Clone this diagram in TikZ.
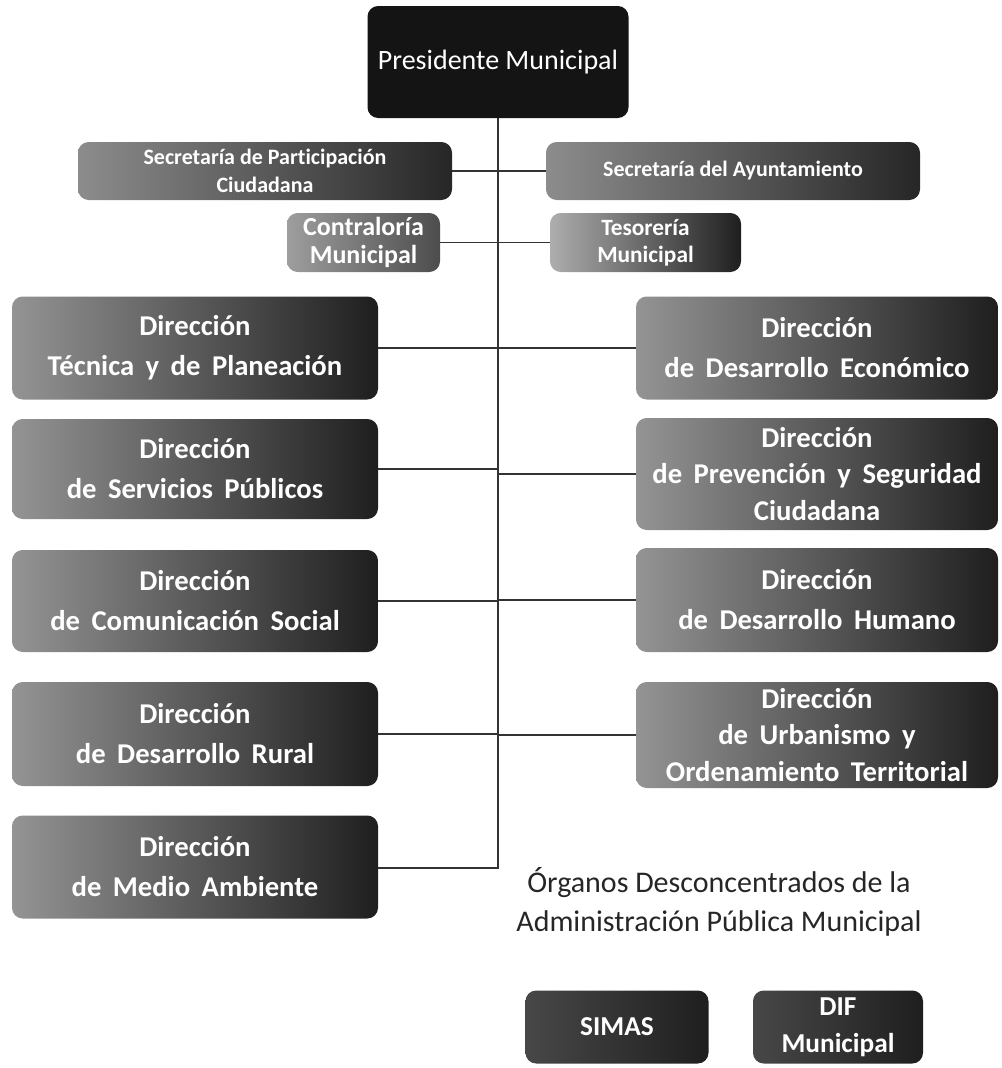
\documentclass[tikz,border=0pt]{standalone}
\usepackage{fontspec}
\setmainfont{Carlito}[Ligatures=NoCommon]
\usetikzlibrary{shadings}
\newcommand\mywidesp{\spaceskip 0.40em plus 0.1em\relax}
\begin{document}
\begin{tikzpicture}[x=0.75pt,y=-0.75pt,
  sz/.style 2 args={minimum width=#1*0.75pt, minimum height=#2*0.75pt},
  box/.style={rounded corners=8pt, inner sep=0pt, align=center, text=white},
  dirbox/.style={box, left color=black!42, right color=black!88,
    font=\fontsize{21.5}{30}\selectfont\bfseries\mywidesp},
  dirthree/.style={dirbox, font=\fontsize{21.5}{27.5}\selectfont\bfseries\mywidesp},
  secbox/.style={box, left color=black!45, right color=black!85,
    font=\fontsize{16.5}{21}\selectfont\bfseries},
  presbox/.style={box, fill=black!92, font=\fontsize{21}{25}\selectfont},
  darkbox/.style={box, left color=black!72, right color=black!88,
    font=\fontsize{20.5}{27.5}\selectfont\bfseries},
  conn/.style={draw=black!80, line width=0.8pt},
  plain/.style={align=center, text=black!85, font=\fontsize{22.5}{29}\selectfont}
]
\useasboundingbox (0,0) rectangle (1001,1068);

% top
\node[presbox, sz={261}{112}] (pres) at (498,62) {Presidente Municipal};

% secretarías
\node[secbox, sz={374}{58}] (secP) at (265,171) {Secretaría de Participación\\Ciudadana};
\node[secbox, sz={374}{58}] (secA) at (733,171) {Secretaría del Ayuntamiento};
\node[box, left color=black!38, right color=black!70, sz={153}{59},
  font=\fontsize{19.5}{21}\selectfont\bfseries] (contra) at (363.5,242.5) {Contraloría\\Municipal};
\node[box, left color=black!32, right color=black!88, sz={191}{59},
  font=\fontsize{17.5}{20.5}\selectfont\bfseries] (teso) at (645.5,242.5) {Tesorería\\Municipal};

% left column
\node[dirbox, sz={366}{103}] (L1) at (195,348) {Dirección\\Técnica y de Planeación};
\node[dirbox, sz={366}{100}] (L2) at (195,469) {Dirección\\de Servicios Públicos};
\node[dirbox, sz={366}{102}] (L3) at (195,601) {Dirección\\de Comunicación Social};
\node[dirbox, sz={366}{104}] (L4) at (195,734) {Dirección\\de Desarrollo Rural};
\node[dirbox, sz={366}{103}] (L5) at (195,867) {Dirección\\de Medio Ambiente};

% right column
\node[dirbox, sz={362}{103}] (R1) at (817,348) {Dirección\\de Desarrollo Económico};
\node[dirthree, sz={362}{112}] (R2) at (817,474) {Dirección\\de Prevención y Seguridad\\Ciudadana};
\node[dirbox, sz={362}{104}] (R3) at (817,600) {Dirección\\de Desarrollo Humano};
\node[dirthree, sz={362}{106}] (R4) at (817,735) {Dirección\\de Urbanismo y\\Ordenamiento Territorial};

% órganos desconcentrados
\node[plain] (org) at (719,902) {Órganos Desconcentrados de la\\Administración Pública Municipal};
\node[darkbox, sz={183}{73}] (simas) at (617,1027) {SIMAS};
\node[darkbox, sz={170}{73}] (dif) at (838,1027) {DIF\\Municipal};

% connectors
\coordinate (spbot) at (498,868);
\draw[conn] (pres.south) -- (spbot) -- (spbot -| L5.east);
\draw[conn] (secP.east) -- (secA.west);
\draw[conn] (contra.east) -- (teso.west);
\foreach \n in {L1,L2,L3,L4}{\draw[conn] (\n.east) -- (\n.east -| spbot);}
\foreach \n in {R1,R2,R3,R4}{\draw[conn] (\n.west) -- (\n.west -| spbot);}
\end{tikzpicture}
\end{document}
